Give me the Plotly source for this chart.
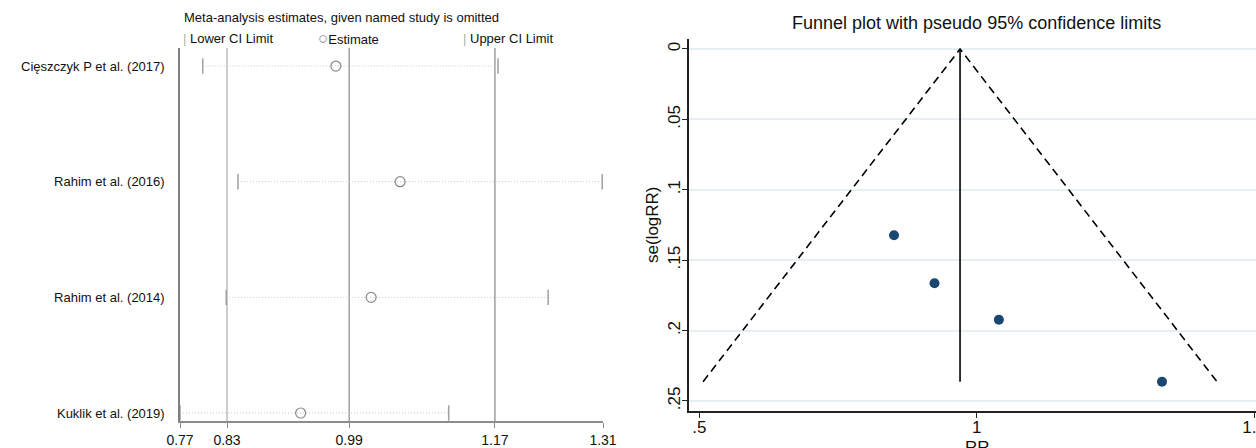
import plotly.graph_objects as go

W, H = 1256, 448

# ---------------- data: influence analysis (left) ----------------
studies = ["Cięszczyk P et al. (2017)", "Rahim et al. (2016)",
           "Rahim et al. (2014)", "Kuklik et al. (2019)"]
study_pos = [4, 3, 2, 1]
lower_ci = [0.799, 0.844, 0.829, 0.770]
estimate = [0.969, 1.051, 1.014, 0.924]
upper_ci = [1.176, 1.309, 1.240, 1.113]
overall_lines = [0.830, 0.986, 1.172]          # overall lower CI, estimate, upper CI
inf_tickvals = [0.770, 0.830, 0.986, 1.172, 1.310]
inf_ticktext = ["0.77", "0.83", "0.99", "1.17", "1.31"]

# ---------------- data: funnel plot (right) ----------------
rr = [0.851, 0.924, 1.040, 1.334]
se_logrr = [0.1323, 0.1664, 0.1923, 0.2363]
pooled_rr = 0.970
funnel_xticks = [0.5, 1.0, 1.5]
funnel_xtext = [".5", "1", "1.5"]
funnel_yticks = [0, 0.05, 0.10, 0.15, 0.20, 0.25]
funnel_ytext = ["0", ".05", ".1", ".15", ".2", ".25"]

FONT = "Arial, Liberation Sans, sans-serif"


def fx(px):
    return px / W


def fy(py):
    return 1 - py / H


fig = go.Figure()

# ---- left panel traces ----
ci_x, ci_y = [], []
for lo, hi, p in zip(lower_ci, upper_ci, study_pos):
    ci_x += [lo, hi, None]
    ci_y += [p, p, None]
fig.add_trace(go.Scatter(x=ci_x, y=ci_y, mode="lines", xaxis="x", yaxis="y",
                         line=dict(color="#c8c8c8", width=1, dash="1px,2px"),
                         showlegend=False, hoverinfo="skip"))
for vals in (lower_ci, upper_ci):
    fig.add_trace(go.Scatter(x=vals, y=study_pos, mode="markers", xaxis="x", yaxis="y",
                             marker=dict(symbol="line-ns", size=11,
                                         line=dict(color="#a0a0a0", width=1.5)),
                             showlegend=False))
fig.add_trace(go.Scatter(x=estimate, y=study_pos, mode="markers", xaxis="x", yaxis="y",
                         marker=dict(symbol="circle-open", size=10, color="#8a8a8a",
                                     line=dict(color="#8a8a8a", width=1.2)),
                         showlegend=False))

# ---- right panel traces ----
se_max = max(se_logrr)
fig.add_trace(go.Scatter(x=[pooled_rr - 1.96 * se_max, pooled_rr, pooled_rr + 1.96 * se_max],
                         y=[se_max, 0, se_max], mode="lines", xaxis="x2", yaxis="y2",
                         line=dict(color="black", width=1.6, dash="8px,5px"),
                         showlegend=False, hoverinfo="skip"))
fig.add_trace(go.Scatter(x=[pooled_rr, pooled_rr], y=[0, se_max], mode="lines",
                         xaxis="x2", yaxis="y2",
                         line=dict(color="black", width=1.6),
                         showlegend=False, hoverinfo="skip"))
fig.add_trace(go.Scatter(x=rr, y=se_logrr, mode="markers", xaxis="x2", yaxis="y2",
                         marker=dict(symbol="circle", size=10, color="#1a476f"),
                         showlegend=False))

# ---- reference lines in left panel ----
for v, c in zip(overall_lines, ["#bdbdbd", "#a0a0a0", "#a0a0a0"]):
    fig.add_shape(type="line", xref="x", yref="y domain", x0=v, x1=v, y0=0, y1=1,
                  line=dict(color=c, width=1.5), layer="below")

left_x = dict(domain=[fx(180), fx(603)], range=[0.770, 1.310], anchor="y",
              showgrid=False, zeroline=False, showline=True, linecolor="#8c8c8c",
              linewidth=1.5, ticks="outside", ticklen=5, tickcolor="#8c8c8c",
              tickvals=inf_tickvals, ticktext=inf_ticktext,
              tickfont=dict(family=FONT, size=14, color="#111"), automargin=False,
              ticklabeloverflow="allow")
left_y = dict(domain=[fy(421), fy(48)], range=[0.931, 4.156], anchor="x",
              showgrid=False, zeroline=False, showline=True, linecolor="#7f7f7f",
              linewidth=1.5, ticks="", tickvals=study_pos, ticktext=studies,
              ticklabelstandoff=11,
              tickfont=dict(family=FONT, size=13, color="#111"), automargin=False)
right_x = dict(domain=[fx(689.3), 1.0], range=[0.482, 0.482 + (W - 689.3) / 554.8],
               anchor="y2", showgrid=False, zeroline=False, showline=True,
               linecolor="#222", linewidth=1.5, ticks="outside", ticklen=6,
               tickcolor="#222", tickvals=funnel_xticks, ticktext=funnel_xtext,
               ticklabelstandoff=-6,
               tickfont=dict(family=FONT, size=17, color="#111"), automargin=False,
               ticklabeloverflow="allow")
right_y = dict(domain=[fy(410.7), fy(38.7)], range=[0.2569, -0.0073], anchor="x2",
               showgrid=True, gridcolor="#e6eff1", gridwidth=1.5, zeroline=False,
               showline=True, linecolor="#222", linewidth=1.5, ticks="outside",
               ticklen=6, tickcolor="#222", tickvals=funnel_yticks,
               ticktext=funnel_ytext, tickangle=-90, ticklabelstandoff=-5,
               tickfont=dict(family=FONT, size=17, color="#111"), automargin=False)

annotations = [
    dict(text="Meta-analysis estimates, given named study is omitted",
         x=fx(182), y=fy(18), xanchor="left", yanchor="middle",
         font=dict(family=FONT, size=13, color="#111")),
    dict(text="<span style='color:#b0b0b0'>|</span> Lower CI Limit",
         x=fx(181), y=fy(38), xanchor="left", yanchor="middle",
         font=dict(family=FONT, size=13, color="#111")),
    dict(text="<span style='color:#8a8a8a;font-size:17px'>○</span>Estimate",
         x=fx(316), y=fy(38), xanchor="left", yanchor="middle",
         font=dict(family=FONT, size=13, color="#111")),
    dict(text="<span style='color:#b0b0b0'>|</span> Upper CI Limit",
         x=fx(461), y=fy(38), xanchor="left", yanchor="middle",
         font=dict(family=FONT, size=13, color="#111")),
    dict(text="Funnel plot with pseudo 95% confidence limits",
         x=fx(976.5), y=fy(23), xanchor="center", yanchor="middle",
         font=dict(family=FONT, size=18, color="#111")),
    dict(text="se(logRR)", textangle=-90, x=fx(652), y=fy(225),
         xanchor="center", yanchor="middle",
         font=dict(family=FONT, size=17, color="#111")),
    dict(text="RR", x=fx(977), y=fy(436), xanchor="center", yanchor="top",
         font=dict(family=FONT, size=17, color="#111")),
]
for a in annotations:
    a.update(xref="paper", yref="paper", showarrow=False)

fig.update_layout(
    width=W, height=H, autosize=False,
    margin=dict(l=0, r=0, t=0, b=0, pad=0),
    paper_bgcolor="white", plot_bgcolor="white",
    xaxis=left_x, yaxis=left_y, xaxis2=right_x, yaxis2=right_y,
    annotations=annotations, showlegend=False,
    font=dict(family=FONT),
)

fig.write_html("out.html",
               config={"displayModeBar": False},
               post_script="document.body.style.margin='0px';"
                           "document.body.style.overflow='hidden';")
